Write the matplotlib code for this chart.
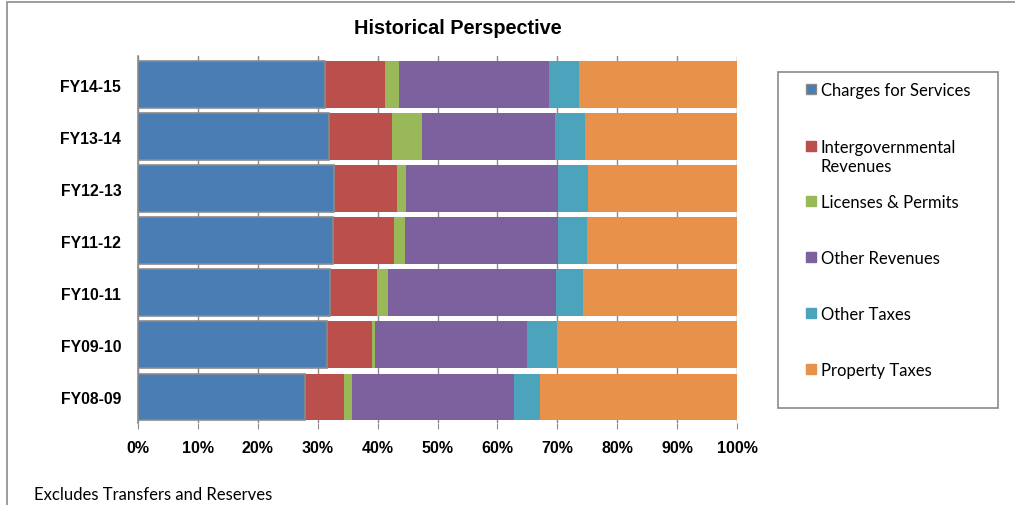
import matplotlib
matplotlib.use("Agg")
import matplotlib.pyplot as plt
from matplotlib.patches import Rectangle
import numpy as np

categories = ["FY08-09", "FY09-10", "FY10-11", "FY11-12", "FY12-13", "FY13-14", "FY14-15"]
series_names = ["Charges for Services", "Intergovernmental\nRevenues", "Licenses & Permits",
                "Other Revenues", "Other Taxes", "Property Taxes"]
charges = [27.8, 31.5, 32.1, 32.6, 32.8, 31.9, 31.2]
intergov = [6.6, 7.6, 7.8, 10.2, 10.5, 10.5, 10.1]
licenses = [1.4, 0.5, 1.9, 1.8, 1.5, 5.0, 2.3]
other_rev = [26.9, 25.3, 28.0, 25.5, 25.3, 22.2, 25.0]
other_tax = [4.4, 5.0, 4.5, 4.8, 5.1, 5.0, 5.1]
property_tax = [32.9, 30.1, 25.7, 25.1, 24.8, 25.4, 26.3]
xtick_labels = ["0%", "10%", "20%", "30%", "40%", "50%", "60%", "70%", "80%", "90%", "100%"]

colors = ["#4A7DB3", "#BA4F4C", "#99B958", "#7D619E", "#4BA4BC", "#E8914A"]

W, H = 1015, 506
fig = plt.figure(figsize=(W / 100, H / 100), dpi=100)
fig.patch.set_facecolor("white")

# outer chart border
fig.add_artist(Rectangle((7 / W, 0 - 0.01), 1.2, 1 - 3 / H + 0.01, transform=fig.transFigure,
                         fill=False, edgecolor="#8c8c8c", linewidth=1.2))

ax = fig.add_axes([138 / W, 1 - 424 / H, (737 - 138) / W, (424 - 57) / H])
data = [charges, intergov, licenses, other_rev, other_tax, property_tax]
vals = np.array(data, dtype=float)
totals = vals.sum(axis=0)
pct = vals / totals * 100
y = np.arange(len(categories))
left = np.zeros(len(categories))
for i, (name, c) in enumerate(zip(series_names, colors)):
    if i == 0:
        ax.barh(y, pct[i], left=left, height=0.9, color=c, edgecolor="#8a8a8a",
                linewidth=1.2, zorder=3)
    else:
        ax.barh(y, pct[i], left=left, height=0.9, color=c, linewidth=0, zorder=2)
    left += pct[i]

ax.set_xlim(0, 100)
ax.set_ylim(-0.5, 6.55)
ax.set_xticks(np.arange(0, 101, 10))
ax.set_xticklabels(xtick_labels, fontsize=11.5, fontweight="bold", family="Liberation Sans")
ax.set_yticks(y)
ax.set_yticklabels(categories, fontsize=11.3, fontweight="bold", family="Liberation Sans")
ax.tick_params(axis="y", length=0, pad=12)
ax.tick_params(axis="x", length=4, color="#8a8a8a", pad=8, direction="out")
ax.xaxis.grid(True, color="#8a8a8a", linewidth=1.0, zorder=0)
ax.set_axisbelow(True)
for s in ["top", "right", "bottom"]:
    ax.spines[s].set_visible(False)
ax.spines["left"].set_color("#8a8a8a")
ax.spines["left"].set_linewidth(1.2)

fig.text(458 / W, 1 - 28 / H, "Historical Perspective", ha="center", va="center",
         fontsize=14.3, fontweight="bold", family="Liberation Sans")

# legend box
lx0, ly0, lx1, ly1 = 778, 73, 998, 409
fig.add_artist(Rectangle((lx0 / W, 1 - ly1 / H), (lx1 - lx0) / W, (ly1 - ly0) / H,
                         transform=fig.transFigure, fill=False, edgecolor="#8a8a8a", linewidth=1.2))
entry_y = [90, 147, 202, 258, 314, 370]
for i, (name, c) in enumerate(zip(series_names, colors)):
    yy = entry_y[i]
    ec = "#8a8a8a" if i == 0 else c
    fig.add_artist(Rectangle((806 / W, 1 - (yy + 5) / H), 10 / W, 10 / H, transform=fig.transFigure,
                             facecolor=c, edgecolor=ec, linewidth=1))
    fig.text(821 / W, 1 - (yy - 7) / H, name, ha="left", va="top", fontsize=12,
             family="Lato", linespacing=1.22)

fig.text(34 / W, 1 - 495 / H, "Excludes Transfers and Reserves", ha="left", va="center",
         fontsize=12, family="Lato")

fig.savefig("out.png", dpi=100)
